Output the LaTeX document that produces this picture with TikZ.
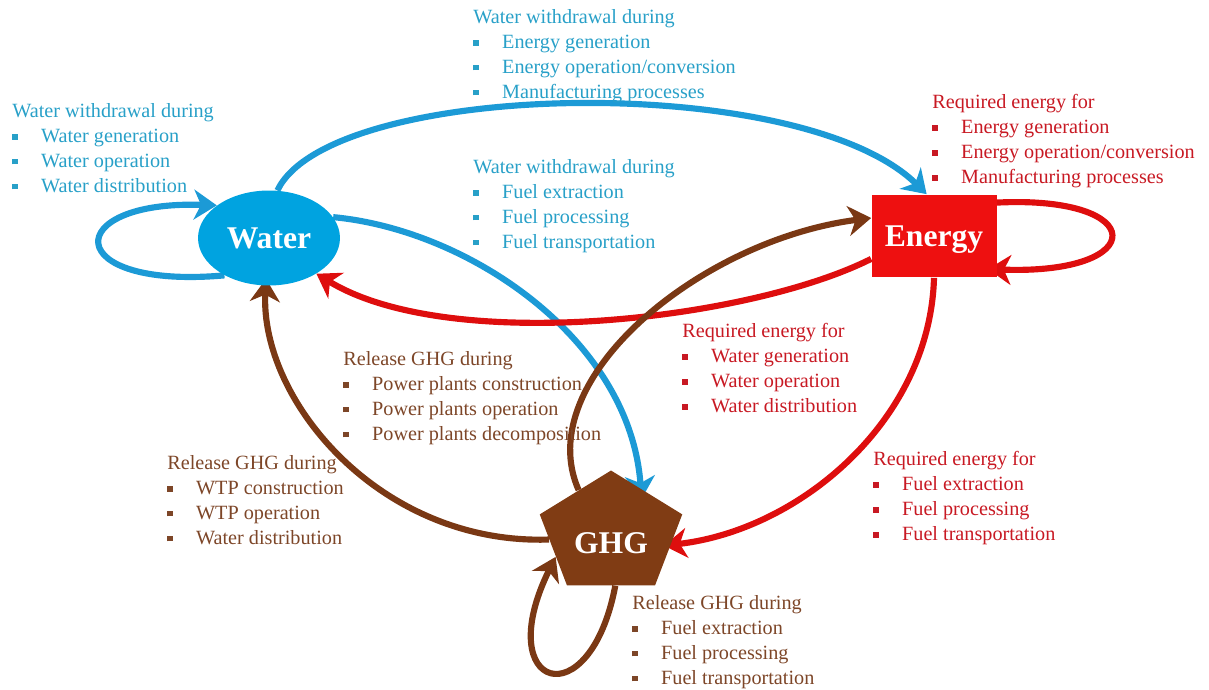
\documentclass[tikz,border=0pt]{standalone}
\usepackage{fontspec}
\setmainfont{Liberation Serif}
\usetikzlibrary{positioning, arrows.meta, shapes, backgrounds}
\definecolor{waterblue}{RGB}{0,163,224}
\definecolor{wflowc}{RGB}{28,154,214}
\definecolor{wtext}{RGB}{40,160,200}
\definecolor{energyred}{RGB}{238,16,16}
\definecolor{eflowc}{RGB}{222,14,14}
\definecolor{etext}{RGB}{200,25,35}
\definecolor{ghgbrown}{RGB}{128,60,20}
\definecolor{gflowc}{RGB}{122,56,20}
\definecolor{gtext}{RGB}{125,70,40}
\newcommand{\itm}{\makebox[16.4pt][l]{\rule[1.6pt]{3.2pt}{3.2pt}}}

\begin{document}
\begin{tikzpicture}[x=0.02cm, y=-0.02cm]

\tikzset{
waterhub/.style = {ellipse, fill = waterblue, text = white, inner sep = 0pt,
	minimum width = 2.84cm, minimum height = 1.9cm, font = \bfseries\fontsize{18}{20}\selectfont},
energyhub/.style = {rectangle, fill = energyred, text = white, inner sep = 0pt, text depth = 0pt,
	minimum width = 2.5cm, minimum height = 1.66cm, font = \bfseries\fontsize{18}{20}\selectfont},
ghghub/.style = {regular polygon, regular polygon sides = 5, fill = ghgbrown, inner sep = 0pt,
	minimum size = 2.54cm, xscale = 1.18},
hublabel/.style = {text = white, inner sep = 0pt, font = \bfseries\fontsize{18}{20}\selectfont},
list/.style = {anchor = north west, inner sep = 0pt, align = left,
	font = \fontsize{11.5}{14.2}\selectfont},
wlist/.style = {list, text = wtext},
elist/.style = {list, text = etext},
glist/.style = {list, text = gtext},
flow/.style = {line width = 3.5pt, -{Stealth[length = 13pt, width = 17pt, inset = 4pt]}},
wflow/.style = {flow, draw = wflowc},
eflow/.style = {flow, draw = eflowc},
gflow/.style = {flow, draw = gflowc},
	}

\useasboundingbox (0,0) rectangle (1209,689);

%% Hubs
\node at (269, 238) [waterhub] (water) {Water};
\node at (934, 236) [energyhub] (energy) {Energy};
\node at (611, 534) [ghghub] (ghg) {};
\node at (611, 543) [hublabel] (ghgtext) {GHG};

%% Lists
% water withdrawal
\node at (12, 103) [wlist] (wwater) {Water withdrawal during\\
	\itm Water generation\\ \itm Water operation\\ \itm Water distribution};
\node at (473, 9) [wlist] (wenergy) {Water withdrawal during\\
	\itm Energy generation\\ \itm Energy operation/conversion\\ \itm Manufacturing processes};
\node at (473, 159) [wlist] (wfuel) {Water withdrawal during\\
	\itm Fuel extraction\\ \itm Fuel processing\\ \itm Fuel transportation};
% required energy
\node at (932, 94) [elist] (eenergy) {Required energy for\\
	\itm Energy generation\\ \itm Energy operation/conversion\\ \itm Manufacturing processes};
\node at (682, 323) [elist] (ewater) {Required energy for\\
	\itm Water generation\\ \itm Water operation\\ \itm Water distribution};
\node at (873, 451) [elist] (efuel) {Required energy for\\
	\itm Fuel extraction\\ \itm Fuel processing\\ \itm Fuel transportation};
% release GHG
\node at (343, 351) [glist] (gpower) {Release GHG during\\
	\itm Power plants construction\\ \itm Power plants operation\\ \itm Power plants decomposition};
\node at (167, 455) [glist] (gwtp) {Release GHG during\\
	\itm WTP construction\\ \itm WTP operation\\ \itm Water distribution};
\node at (632, 595) [glist] (gfuel) {Release GHG during\\
	\itm Fuel extraction\\ \itm Fuel processing\\ \itm Fuel transportation};

%% Flows
\begin{scope}[on background layer]
% water
\draw [wflow] (water.220) .. controls (60, 290) and (60, 200) .. (water.148);
\draw [wflow] (water.80) .. controls (330, 80) and (800, 70) .. (energy.100);
\draw [wflow, shorten >= -6pt] (water.18) .. controls (470, 230) and (630, 340) .. (ghg.61);
% energy
\draw [eflow, shorten >= -5pt] (energy.28) .. controls (1150, 195) and (1150, 275) .. (energy.-28);
\draw [eflow] (energy.200) .. controls (750, 320) and (450, 355) .. (water.-37);
\draw [eflow, shorten >= -4pt] (energy.south) .. controls (930, 420) and (800, 530) .. (ghg.-12);
% ghg
\draw [gflow, shorten >= -4pt] (ghg.186) .. controls (380, 545) and (260, 400) .. (water.266);
\draw [gflow] (ghg.122) .. controls (530, 380) and (700, 240) .. (energy.164);
\draw [gflow] (ghg.-86) .. controls (590, 720) and (490, 690) .. (ghg.206);
\end{scope}

\end{tikzpicture}
\end{document}
